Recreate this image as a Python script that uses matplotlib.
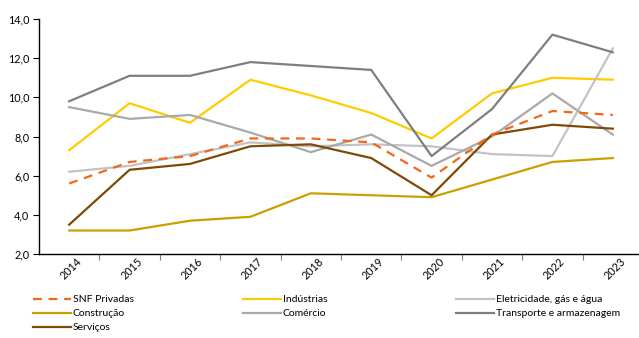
import numpy as np
import matplotlib
matplotlib.use("Agg")
from matplotlib import pyplot as plt
from matplotlib import transforms
from matplotlib.ticker import FuncFormatter, FixedLocator

years = ['2014', '2015', '2016', '2017', '2018', '2019', '2020', '2021', '2022', '2023']

snf_privadas = [5.6, 6.7, 7.0, 7.9, 7.9, 7.7, 5.9, 8.1, 9.3, 9.1]
industrias = [7.3, 9.7, 8.7, 10.9, 10.1, 9.2, 7.9, 10.2, 11.0, 10.9]
eletricidade = [6.2, 6.5, 7.1, 7.7, 7.5, 7.6, 7.5, 7.1, 7.0, 12.5]
construcao = [3.2, 3.2, 3.7, 3.9, 5.1, 5.0, 4.9, 5.8, 6.7, 6.9]
comercio = [9.5, 8.9, 9.1, 8.2, 7.2, 8.1, 6.5, 8.0, 10.2, 8.1]
transporte = [9.8, 11.1, 11.1, 11.8, 11.6, 11.4, 7.0, 9.4, 13.2, 12.3]
servicos = [3.5, 6.3, 6.6, 7.5, 7.6, 6.9, 5.0, 8.1, 8.6, 8.4]

plt.rcParams['font.family'] = ['Lato', 'DejaVu Sans']

fig = plt.figure(figsize=(6.39, 3.38), dpi=100)
W, H = 639, 338
ax = fig.add_axes([39 / W, (H - 254) / H, (643 - 39) / W, (254 - 19) / H])

x = np.arange(len(years))
lw = 1.6
l_snf, = ax.plot(x, snf_privadas, color='#F4661B', lw=lw, dashes=(4, 3), label='SNF Privadas', zorder=5)
l_ind, = ax.plot(x, industrias, color='#FFCC00', lw=lw, label='Indústrias')
l_ele, = ax.plot(x, eletricidade, color='#C3C3C3', lw=lw, label='Eletricidade, gás e água')
l_con, = ax.plot(x, construcao, color='#C9A000', lw=lw, label='Construção')
l_com, = ax.plot(x, comercio, color='#A9A9A9', lw=lw, label='Comércio')
l_tra, = ax.plot(x, transporte, color='#7F7F7F', lw=lw, label='Transporte e armazenagem')
l_ser, = ax.plot(x, servicos, color='#7F4A05', lw=lw, label='Serviços')

ax.set_xlim(-0.5, len(years) - 0.5)
ax.set_ylim(2, 14)
ax.set_yticks(np.arange(2, 15, 2))
ax.yaxis.set_major_formatter(FuncFormatter(lambda v, p: f"{v:.1f}".replace('.', ',')))
ax.tick_params(axis='y', labelsize=7.8, length=4, width=0.8, direction='out', pad=3)

ax.set_xticks(x)
ax.set_xticklabels(years, rotation=45, ha='center', va='top', fontsize=7.8)
ax.tick_params(axis='x', which='major', length=0, pad=1)
shift = transforms.ScaledTranslation(2 / 100, 0, fig.dpi_scale_trans)
for lab in ax.get_xticklabels():
    lab.set_transform(lab.get_transform() + shift)
ax.xaxis.set_minor_locator(FixedLocator(np.arange(0.5, len(years) - 0.5, 1)))
ax.tick_params(axis='x', which='minor', length=4, width=0.8, direction='out', color='#7F7F7F')

for s in ['top', 'right']:
    ax.spines[s].set_visible(False)
for s in ['left', 'bottom']:
    ax.spines[s].set_linewidth(1.0)
    ax.spines[s].set_color('black')

# legend in three columns, placed by hand
columns = [([l_snf, l_con, l_ser], 33), ([l_ind, l_com], 243), ([l_ele, l_tra], 456)]
for handles, xpos in columns:
    fig.legend(handles=handles, labels=[h.get_label() for h in handles],
               loc='upper left', bbox_to_anchor=(xpos / W, 1 - 295 / H),
               frameon=False, fontsize=7.5, handlelength=3.6, handletextpad=0.2,
               labelspacing=0.45, borderpad=0, borderaxespad=0)

fig.savefig('out.png', dpi=100)
